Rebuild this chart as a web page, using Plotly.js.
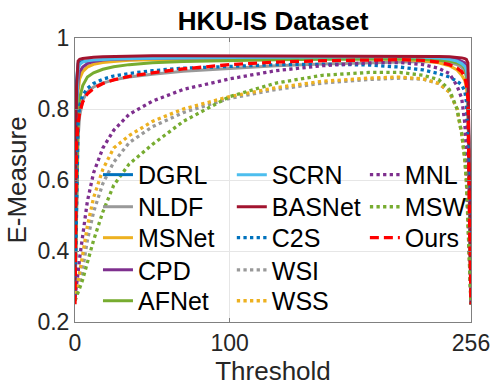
<!DOCTYPE html>
<html>
<head>
<meta charset="utf-8">
<script src="https://cdn.plot.ly/plotly-3.0.1.min.js"></script>
<style>
    html, body { margin: 0; padding: 0; background: #fff; }
    #chart { width: 491px; height: 390px; }
</style>
</head>
<body>
<div id="chart"></div>
<script>
// ---------- Data: thresholds and E-measure per method ---------- //
const thresholds = [0, 1, 2, 3, 5, 8, 12, 18, 25, 35, 50, 70, 100, 130, 160, 190, 210, 225, 235, 242, 247, 250, 252, 253, 254, 255, 256];

const dgrl   = [0.26, 0.88, 0.928, 0.932, 0.934, 0.935, 0.936, 0.937, 0.938, 0.939, 0.940, 0.940, 0.941, 0.941, 0.942, 0.942, 0.942, 0.941, 0.940, 0.938, 0.935, 0.930, 0.920, 0.900, 0.850, 0.50, 0.25];
const nldf   = [0.26, 0.55, 0.72, 0.78, 0.825, 0.848, 0.862, 0.873, 0.882, 0.890, 0.898, 0.906, 0.915, 0.922, 0.927, 0.931, 0.933, 0.934, 0.933, 0.930, 0.925, 0.918, 0.905, 0.890, 0.850, 0.50, 0.25];
const msnet  = [0.27, 0.70, 0.85, 0.885, 0.905, 0.918, 0.926, 0.931, 0.934, 0.937, 0.939, 0.940, 0.941, 0.941, 0.942, 0.941, 0.940, 0.936, 0.930, 0.922, 0.910, 0.895, 0.880, 0.860, 0.820, 0.50, 0.25];
const cpd    = [0.27, 0.80, 0.88, 0.905, 0.918, 0.928, 0.934, 0.938, 0.940, 0.942, 0.943, 0.944, 0.945, 0.945, 0.946, 0.946, 0.946, 0.945, 0.944, 0.942, 0.940, 0.935, 0.930, 0.920, 0.900, 0.55, 0.25];
const afnet  = [0.27, 0.60, 0.78, 0.83, 0.866, 0.890, 0.902, 0.912, 0.919, 0.925, 0.930, 0.934, 0.937, 0.939, 0.940, 0.941, 0.941, 0.940, 0.938, 0.935, 0.930, 0.925, 0.915, 0.900, 0.870, 0.55, 0.25];
const scrn   = [0.27, 0.80, 0.91, 0.925, 0.932, 0.936, 0.938, 0.940, 0.941, 0.942, 0.943, 0.944, 0.945, 0.946, 0.947, 0.947, 0.947, 0.946, 0.944, 0.940, 0.935, 0.928, 0.920, 0.910, 0.880, 0.55, 0.25];
const basnet = [0.27, 0.86, 0.935, 0.940, 0.942, 0.944, 0.946, 0.947, 0.948, 0.949, 0.950, 0.950, 0.950, 0.950, 0.950, 0.950, 0.950, 0.949, 0.948, 0.947, 0.946, 0.944, 0.942, 0.940, 0.930, 0.60, 0.25];
const c2s    = [0.27, 0.60, 0.76, 0.81, 0.838, 0.858, 0.872, 0.884, 0.893, 0.900, 0.908, 0.915, 0.921, 0.925, 0.926, 0.924, 0.918, 0.910, 0.900, 0.890, 0.878, 0.868, 0.850, 0.820, 0.700, 0.45, 0.25];
const wsi    = [0.26, 0.28, 0.295, 0.31, 0.35, 0.43, 0.51, 0.59, 0.65, 0.705, 0.750, 0.790, 0.830, 0.855, 0.873, 0.883, 0.887, 0.884, 0.872, 0.848, 0.800, 0.730, 0.660, 0.600, 0.500, 0.35, 0.25];
const wss    = [0.26, 0.29, 0.31, 0.34, 0.39, 0.47, 0.55, 0.63, 0.69, 0.725, 0.765, 0.800, 0.835, 0.860, 0.878, 0.887, 0.890, 0.885, 0.872, 0.848, 0.800, 0.730, 0.660, 0.600, 0.500, 0.35, 0.25];
const mnl    = [0.27, 0.30, 0.34, 0.38, 0.45, 0.54, 0.62, 0.69, 0.74, 0.785, 0.822, 0.855, 0.885, 0.908, 0.922, 0.930, 0.931, 0.925, 0.915, 0.900, 0.865, 0.830, 0.760, 0.680, 0.550, 0.40, 0.25];
const msw    = [0.26, 0.27, 0.28, 0.295, 0.32, 0.37, 0.43, 0.51, 0.585, 0.645, 0.700, 0.765, 0.835, 0.873, 0.895, 0.903, 0.903, 0.895, 0.883, 0.855, 0.800, 0.730, 0.660, 0.600, 0.500, 0.35, 0.25];
const ours   = [0.25, 0.70, 0.76, 0.79, 0.82, 0.843, 0.858, 0.872, 0.882, 0.892, 0.902, 0.913, 0.925, 0.932, 0.936, 0.938, 0.939, 0.937, 0.932, 0.925, 0.915, 0.905, 0.890, 0.870, 0.830, 0.50, 0.25];

const xTicks = [0, 100, 256];
// ---------- End of Data ---------- //

const FONT = '"Liberation Sans", Arial, Helvetica, sans-serif';

// name, values, colour, dash
const methods = [
    ['DGRL',   dgrl,   '#0072BD', 'solid'],
    ['NLDF',   nldf,   '#999999', 'solid'],
    ['MSNet',  msnet,  '#EDB120', 'solid'],
    ['CPD',    cpd,    '#7E2F8E', 'solid'],
    ['AFNet',  afnet,  '#77AC30', 'solid'],
    ['SCRN',   scrn,   '#4DBEEE', 'solid'],
    ['BASNet', basnet, '#A2142F', 'solid'],
    ['C2S',    c2s,    '#0072BD', 'dot'],
    ['WSI',    wsi,    '#999999', 'dot'],
    ['WSS',    wss,    '#EDB120', 'dot'],
    ['MNL',    mnl,    '#7E2F8E', 'dot'],
    ['MSW',    msw,    '#77AC30', 'dot'],
    ['Ours',   ours,   '#FF0000', '9px,5px'],
];

// legend grid: 5 rows, filled column by column (like the MATLAB legend)
const legendColX = [0.058, 0.396, 0.732];
const legendRowY = [0.518, 0.405, 0.296, 0.183, 0.074];

const layout = {
    width: 491,
    height: 390,
    margin: { l: 75, r: 20, t: 38, b: 68 },
    paper_bgcolor: '#fff',
    plot_bgcolor: '#fff',
    showlegend: true,
    title: {
        text: '<b>HKU-IS Dataset</b>',
        font: { family: FONT, size: 26, color: '#000' },
        x: 0.556, xanchor: 'center',
        y: 0.946, yanchor: 'middle',
    },
};

// one single-entry legend per method, so each can sit in its grid cell
const traces = methods.map(([name, y, color, dash], i) => {
    const key = i === 0 ? 'legend' : 'legend' + (i + 1);
    layout[key] = {
        x: legendColX[Math.floor(i / 5)], xanchor: 'left',
        y: legendRowY[i % 5], yanchor: 'middle',
        bgcolor: 'rgba(0,0,0,0)',
        borderwidth: 0,
        itemwidth: 30,
        font: { family: FONT, size: 25, color: '#000' },
    };
    return {
        x: thresholds,
        y: y,
        type: 'scatter',
        mode: 'lines',
        name: name,
        legend: key,
        line: { color: color, width: dash === 'solid' ? 3 : 3.3, dash: dash },
    };
});

const axisCommon = {
    showline: true,
    linecolor: '#808080',
    linewidth: 1,
    mirror: 'ticks',
    ticks: 'inside',
    ticklen: 4,
    tickcolor: '#808080',
    showgrid: true,
    gridcolor: '#e6e6e6',
    zeroline: false,
    fixedrange: true,
    tickfont: { family: FONT, size: 23, color: '#262626' },
};

layout.xaxis = Object.assign({}, axisCommon, {
    range: [0, 256],
    tickvals: xTicks,
    ticktext: xTicks.map(String),
    title: { text: 'Threshold', font: { family: FONT, size: 26, color: '#262626' }, standoff: 6 },
});
layout.yaxis = Object.assign({}, axisCommon, {
    range: [0.2, 1],
    dtick: 0.2,
    title: { text: 'E-Measure', font: { family: FONT, size: 26, color: '#262626' }, standoff: 3 },
});

Plotly.newPlot('chart', traces, layout, { displayModeBar: false, responsive: false, staticPlot: true });
</script>
</body>
</html>
